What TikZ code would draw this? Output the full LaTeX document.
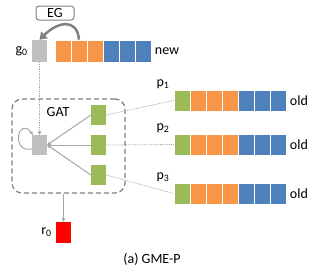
\documentclass[tikz,border=0pt]{standalone}
\usepackage{fontspec}
\setmainfont{Carlito}
\usepackage{xcolor}
\usepackage{tikz}
\usetikzlibrary{arrows.meta}
\definecolor{cellorange}{HTML}{F79646}
\definecolor{cellblue}{HTML}{4F81BD}
\definecolor{cellgreen}{HTML}{9BBB59}
\definecolor{cellgray}{HTML}{BFBFBF}
\definecolor{linegray}{HTML}{A6A6A6}
\definecolor{framegray}{HTML}{7F7F7F}
\tikzset{every node/.append style={font=\fontsize{14}{16}\selectfont}}
\tikzset{
  cell/.style={draw=white, line width=0.8pt, minimum width=16pt, minimum height=22pt, inner sep=0pt},
  unit/.style={minimum width=15pt, minimum height=20pt, inner sep=0pt},
  edgeline/.style={draw=linegray, line width=1pt},
  dotline/.style={draw=linegray, line width=0.8pt, densely dotted},
}

\begin{document}
\begin{tikzpicture}[x=1pt, y=-1pt, >={Stealth[length=4pt,width=4pt]}]
    \useasboundingbox (0,0) rectangle (319,271);

    % Top: new graph
    \node[draw=framegray, rounded corners=3pt, line width=1pt, minimum width=38pt, minimum height=14pt, inner sep=0pt] (eg) at (55,13) {EG};
    \node[unit, minimum height=22pt, fill=cellgray] (g0) at (39.5,51) {};
    \node[left, inner sep=4pt] (g0lbl) at (g0.west) {g\textsubscript{0}};
    \foreach \k/\c in {1/cellorange,2/cellorange,3/cellorange,4/cellblue,5/cellblue,6/cellblue}
        \node[cell, fill=\c] (new\k) at ({47+16*\k}, 51) {};
    \node[right] (newlbl) at (new6.east) {new};
    \draw[draw=gray, line width=2.5pt, -{Triangle[length=7pt,width=9pt]}]
        (new2.north) .. controls +(-2,-22) and +(18,-18) .. (g0.north);

    % GAT block
    \node[draw=framegray, dashed, dash pattern=on 5pt off 3pt, rounded corners=10pt, line width=1.2pt,
          minimum width=113pt, minimum height=94pt] (gatbox) at (68.5,146) {};
    \node (gatlbl) at (58,112) {GAT};
    \node[unit, fill=cellgray] (gg) at (39.5,145) {};
    \foreach \r/\y in {1/115,2/145,3/175} {
        \node[unit, fill=cellgreen] (gr\r) at (98.5,\y) {};
        \draw[edgeline, ->] (gr\r.west) -- (gg.east);
    }
    \draw[dotline, ->] (g0.south) -- (gg.north);
    \draw[edgeline, ->] ([yshift=-4pt]gg.west) .. controls +(-22,4) and +(-14,-20) .. ([xshift=1pt]gg.north west);

    % Old rows
    \foreach \r/\y in {1/100.5,2/144.5,3/193.5} {
        \foreach \k/\c in {0/cellgreen,1/cellorange,2/cellorange,3/cellorange,4/cellblue,5/cellblue,6/cellblue}
            \node[cell, minimum height=21pt, fill=\c] (p\r-\k) at ({182+16*\k}, \y) {};
        \node[anchor=south east, inner sep=1pt] (plbl\r) at ([xshift=-3pt]p\r-0.north west) {p\textsubscript{\r}};
        \node[right] (oldlbl\r) at (p\r-6.east) {old};
        \draw[dotline] (gr\r.east) -- (p\r-0.west);
    }

    % Readout
    \node[unit, minimum height=21pt, fill=red] (r0) at (63.5,232.5) {};
    \node[left, inner sep=4pt] (r0lbl) at (r0.west) {r\textsubscript{0}};
    \draw[edgeline, ->] (gatbox.south -| r0.north) -- (r0.north);

    % Caption
    \node (caption) at (152,259) {(a) GME-P};
\end{tikzpicture}
\end{document}
